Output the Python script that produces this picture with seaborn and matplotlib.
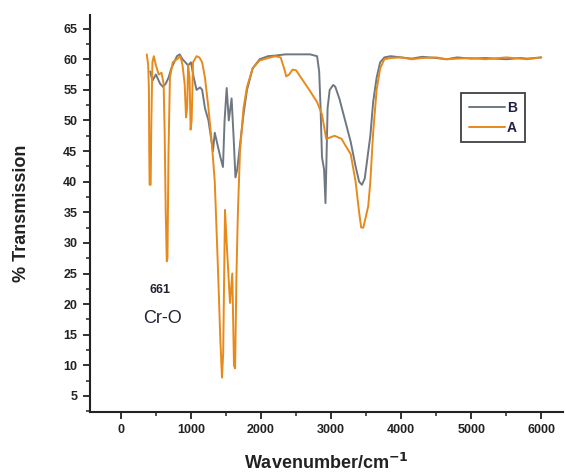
import numpy as np
import pandas as pd
import matplotlib
matplotlib.use("Agg")
import matplotlib.pyplot as plt
from matplotlib.ticker import MultipleLocator
from matplotlib.lines import Line2D
import seaborn as sns

# FTIR spectra: wavenumber (cm^-1) and % transmission
wn_a = [370, 390, 400, 405, 410, 425, 435, 450, 470, 500, 540, 580, 610, 625, 640, 655,
        665, 680, 700, 740, 800, 850, 880, 910, 930, 945, 960, 980, 995, 1010, 1030,
        1080, 1120, 1160, 1200, 1250, 1300, 1340, 1385, 1420, 1443, 1460, 1486, 1510,
        1557, 1590, 1614, 1630, 1650, 1670, 1700, 1750, 1800, 1880, 1980, 2100, 2200,
        2280, 2330, 2360, 2400, 2450, 2500, 2600, 2700, 2800, 2870, 2900, 2930, 2980,
        3050, 3150, 3200, 3280, 3350, 3400, 3430, 3460, 3490, 3530, 3560, 3600, 3650,
        3700, 3760, 3850, 4000, 4150, 4300, 4500, 4650, 4800, 5000, 5200, 5500, 5700,
        5800, 6000]
tr_a = [60.8, 59.0, 55.0, 45.0, 39.5, 39.5, 50.0, 59.5, 60.5, 59.0, 57.5, 57.8, 56.0,
        48.0, 35.0, 27.0, 27.5, 45.0, 57.0, 59.5, 60.0, 60.5, 59.0, 56.0, 50.5, 52.0,
        59.0, 57.0, 48.5, 50.0, 59.5, 60.5, 60.3, 59.5, 57.0, 52.0, 46.0, 40.0, 26.0,
        14.0, 8.0, 12.0, 35.4, 30.0, 20.2, 25.0, 10.0, 9.5, 25.0, 35.0, 45.0, 52.0,
        55.5, 58.5, 59.8, 60.2, 60.5, 60.3, 58.5, 57.2, 57.5, 58.3, 58.2, 56.5, 54.8,
        53.0, 51.0, 49.0, 47.0, 47.2, 47.5, 47.0, 46.0, 44.5, 40.0, 35.0, 32.5, 32.5,
        34.0, 36.0, 40.0, 48.0, 55.0, 58.5, 60.0, 60.2, 60.3, 60.0, 60.2, 60.3, 60.0,
        60.1, 60.2, 60.0, 60.3, 60.1, 60.0, 60.3]

wn_b = [420, 450, 500, 560, 600, 640, 680, 720, 760, 800, 840, 880, 920, 960, 1000,
        1040, 1080, 1130, 1160, 1200, 1250, 1314, 1340, 1380, 1420, 1457, 1480, 1510,
        1540, 1580, 1610, 1635, 1660, 1700, 1750, 1800, 1880, 1980, 2100, 2200, 2350,
        2500, 2700, 2800, 2830, 2850, 2870, 2900, 2920, 2935, 2950, 2980, 3030, 3060,
        3120, 3200, 3280, 3350, 3400, 3440, 3480, 3520, 3560, 3600, 3650, 3700, 3760,
        3850, 4000, 4150, 4300, 4500, 4650, 4800, 5000, 5200, 5500, 5700, 5800, 6000]
tr_b = [58.0, 56.5, 57.5, 56.0, 55.5, 56.0, 57.0, 58.5, 59.5, 60.5, 60.8, 60.0, 59.5,
        59.0, 59.5, 57.0, 55.0, 55.4, 55.0, 52.0, 50.0, 45.0, 48.0, 46.0, 44.0, 42.4,
        50.0, 55.3, 50.0, 53.6, 47.0, 40.7, 42.0, 46.0, 51.0, 55.0, 58.5, 60.0, 60.5,
        60.6, 60.8, 60.8, 60.8, 60.5, 58.0, 52.0, 44.0, 42.0, 36.5, 44.0, 52.0, 55.0,
        55.8, 55.5, 53.5, 50.0, 46.5, 42.5, 40.0, 39.5, 40.5, 44.0, 47.5, 53.0, 57.0,
        59.5, 60.3, 60.5, 60.3, 60.1, 60.4, 60.2, 60.0, 60.3, 60.1, 60.2, 60.0, 60.2,
        60.1, 60.3]

series_names = ["B", "A"]
colors = {"B": "#6f7780", "A": "#e8891c"}

df = pd.concat([
    pd.DataFrame({"wn": wn_b, "tr": tr_b, "sample": "B"}),
    pd.DataFrame({"wn": wn_a, "tr": tr_a, "sample": "A"}),
], ignore_index=True)

sns.set_theme(style="ticks")
plt.rcParams["font.family"] = ["Liberation Sans", "DejaVu Sans"]

fig = plt.figure(figsize=(5.65, 4.74), dpi=100)
ax = fig.add_axes([0.159, 0.131, 0.838, 0.837])

sns.lineplot(data=df, x="wn", y="tr", hue="sample", hue_order=series_names,
             palette=colors, estimator=None, sort=False, linewidth=1.4,
             legend=False, ax=ax)

ax.set_xlim(-443, 6314)
ax.set_ylim(2.4, 67.2)
ax.xaxis.set_major_locator(MultipleLocator(1000))
ax.xaxis.set_minor_locator(MultipleLocator(500))
ax.yaxis.set_major_locator(MultipleLocator(5))
ax.yaxis.set_minor_locator(MultipleLocator(2.5))
ax.set_yticks([5, 10, 15, 20, 25, 30, 35, 40, 45, 50, 55, 60, 65])
ax.tick_params(axis="both", which="major", direction="out", length=5, width=1.3,
               labelsize=9, colors="#222222", pad=4)
ax.tick_params(axis="both", which="minor", direction="out", length=3, width=1.1,
               colors="#222222")
for lab in ax.get_xticklabels() + ax.get_yticklabels():
    lab.set_fontweight("bold")

for side in ["top", "right"]:
    ax.spines[side].set_visible(False)
for side in ["left", "bottom"]:
    ax.spines[side].set_linewidth(1.5)
    ax.spines[side].set_color("#222222")

ax.set_xlabel("Wavenumber/cm$^{\\mathbf{-1}}$", fontsize=13, fontweight="bold",
              color="#222222", labelpad=12)
ax.set_ylabel("% Transmission", fontsize=13, fontweight="bold", color="#222222",
              labelpad=24)

ax.text(557, 22.3, "661", fontsize=9, fontweight="bold", color="#222233",
        ha="center", va="center")
ax.text(600, 17.7, "Cr-O", fontsize=13, color="#222233", ha="center", va="center")

handles = [Line2D([], [], color=colors[s], lw=1.4) for s in series_names]
leg = ax.legend(handles, series_names, loc="upper left",
                bbox_to_anchor=(0.784, 0.804), borderaxespad=0, frameon=True,
                fancybox=False, edgecolor="#111111", handlelength=2.6,
                handletextpad=0.15, borderpad=0.55, labelspacing=0.45,
                prop={"weight": "bold", "size": 10})
leg.get_frame().set_linewidth(1.3)
for t in leg.get_texts():
    t.set_color("#222244")

fig.savefig("out.png", dpi=100)
